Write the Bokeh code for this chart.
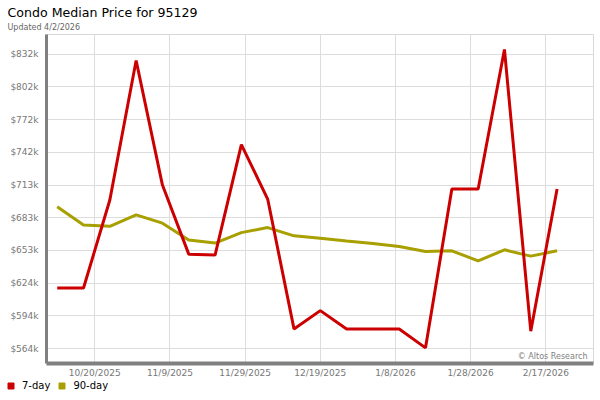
import pandas as pd
from bokeh.plotting import figure
from bokeh.layouts import column
from bokeh.models import (Range1d, FixedTicker, CustomJSTickFormatter, Label,
                          Legend, LegendItem, Title)
from bokeh.embed import file_html
from bokeh.resources import INLINE

# ---- data ----
dates = pd.date_range("2025-10-10", periods=20, freq="7D")
price_7day = [619200, 619200, 699100, 825800, 712700, 650000, 649100, 749500,
              700000, 582100, 598700, 582100, 582100, 582100, 564900, 709100,
              709100, 835800, 580000, 709100]
price_90day = [693100, 676500, 675300, 685600, 678100, 662900, 660000, 669500,
               674100, 666600, 664500, 662000, 659600, 656900, 652400, 653000,
               643900, 653900, 648200, 653000]
y_ticks = [564300, 594000, 623700, 653400, 683000, 712700, 742400, 772100,
           801800, 831500]
x_tick_dates = ["2025-10-20", "2025-11-09", "2025-11-29", "2025-12-19",
                "2026-01-08", "2026-01-28", "2026-02-17"]
title_text = "Condo Median Price for 95129"
subtitle_text = "Updated 4/2/2026"
credit_text = "\u00a9 Altos Research"
series_names = ["7-day", "90-day"]

RED = "#cc0000"
OLIVE = "#a89f00"
FONT = "DejaVu Sans"

x_start = pd.Timestamp("2025-10-07 03:36")
x_end = pd.Timestamp("2026-03-01 16:33")

p = figure(width=600, height=380, x_axis_type="datetime",
           output_backend="svg", toolbar_location=None, title=None,
           x_range=Range1d(x_start, x_end),
           y_range=Range1d(550700, 849400),
           min_border_left=46, min_border_right=7,
           min_border_top=34, min_border_bottom=16)
p.frame_align = False
p.background_fill_color = "white"
p.border_fill_color = "white"
p.outline_line_color = "#d8d8d8"
p.outline_line_width = 1

# axes
xt = [pd.Timestamp(d).value // 10**6 for d in x_tick_dates]
p.xaxis.ticker = FixedTicker(ticks=xt)
p.xaxis.formatter = CustomJSTickFormatter(code="""
const d = new Date(tick);
return (d.getUTCMonth()+1) + '/' + d.getUTCDate() + '/' + d.getUTCFullYear();
""")
p.yaxis.ticker = FixedTicker(ticks=y_ticks)
p.yaxis.formatter = CustomJSTickFormatter(code="return '$' + Math.round(tick/1000) + 'k';")

for ax in (p.xaxis[0], p.yaxis[0]):
    ax.axis_line_color = "#808080"
    ax.major_tick_line_color = None
    ax.minor_tick_line_color = None
    ax.major_tick_out = 0
    ax.major_tick_in = 0
    ax.major_label_text_font = FONT
    ax.major_label_text_font_size = "9px"
    ax.major_label_text_color = "#777777"
p.yaxis.axis_line_width = 3
p.xaxis.axis_line_width = 4
p.yaxis.major_label_standoff = 8
p.xaxis.major_label_standoff = 4

p.grid.grid_line_color = "#dddddd"
p.grid.grid_line_width = 1

# lines
p.line(dates, price_90day, line_color=OLIVE, line_width=3)
p.line(dates, price_7day, line_color=RED, line_width=3)

# titles (first added sits nearest the plot)
p.add_layout(Title(text=subtitle_text, align="left", offset=-39, standoff=5,
                   text_font=FONT, text_font_size="8px",
                   text_font_style="normal", text_color="#666666"), "above")
p.add_layout(Title(text=title_text, align="left", offset=-39, standoff=-3,
                   text_font=FONT, text_font_size="12.6px",
                   text_font_style="normal", text_color="black"), "above")

p.add_layout(Label(x=541, y=7, x_units="screen", y_units="screen",
                   text=credit_text, text_font=FONT, text_font_size="8px",
                   text_color="#808080", text_align="right",
                   text_baseline="alphabetic"))

# ---- legend strip ----
leg = figure(width=600, height=20, output_backend="svg", toolbar_location=None,
             x_range=Range1d(0, 1), y_range=Range1d(0, 1),
             x_axis_location=None, y_axis_location=None, min_border=0)
leg.frame_align = False
leg.grid.visible = False
leg.outline_line_color = None
r1 = leg.scatter([float("nan")], [float("nan")], marker="square", size=6,
                 fill_color=RED, line_color=RED)
r2 = leg.scatter([float("nan")], [float("nan")], marker="square", size=6,
                 fill_color=OLIVE, line_color=OLIVE)
legend = Legend(items=[LegendItem(label=series_names[0], renderers=[r1]),
                       LegendItem(label=series_names[1], renderers=[r2])],
                orientation="horizontal", location=(3, 7),
                glyph_width=15, glyph_height=15, label_height=15,
                label_standoff=4, spacing=4, padding=0, margin=0,
                border_line_color=None, background_fill_alpha=0,
                label_text_font=FONT, label_text_font_size="10px",
                label_text_color="black")
leg.add_layout(legend, "center")

open("out.html", "w").write(file_html(column(p, leg, spacing=0), INLINE))
